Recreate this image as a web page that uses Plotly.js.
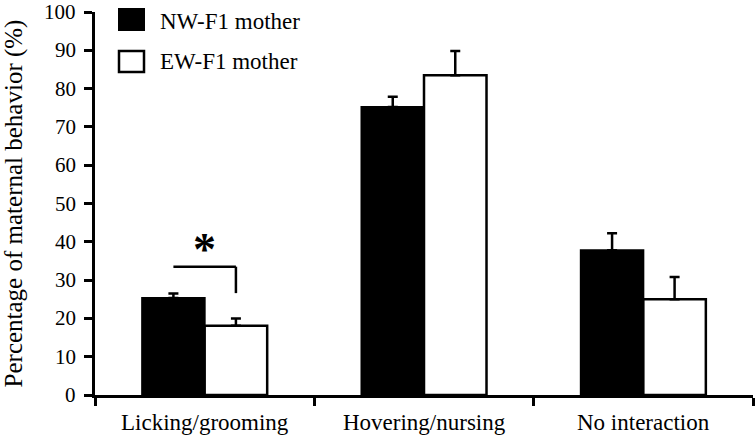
<!DOCTYPE html>
<html>
<head>
<meta charset="utf-8">
<script src="https://cdn.plot.ly/plotly-3.0.1.min.js"></script>
<style>
html,body{margin:0;padding:0;background:#fff;}
#chart{width:756px;height:444px;}
</style>
</head>
<body>
<div id="chart"></div>
<script>
// Data
var categories = ["Licking/grooming", "Hovering/nursing", "No interaction"];
var seriesNames = ["NW-F1 mother", "EW-F1 mother"];
var nwValues = [25.3, 75.2, 37.8];
var nwErrors = [1.2, 2.7, 4.4];
var ewValues = [18.1, 83.5, 25.0];
var ewErrors = [1.9, 6.3, 5.8];
var yTicks = [0, 10, 20, 30, 40, 50, 60, 70, 80, 90, 100];
var sigBracketTop = 33.5;     // horizontal line level of significance bracket
var sigBracketBottom = 26.6;  // bottom of right leg
var sigStarY = 39.7;
var sigCategoryIndex = 0;

var FONT = "Liberation Serif";
var bargap = 0.43;
var halfBar = (1 - bargap) / 4; // center offset of each bar within group

var traces = [
  {
    type: "bar", name: seriesNames[0], x: categories, y: nwValues,
    marker: {color: "#000000", line: {color: "#000000", width: 2}},
    error_y: {type: "data", array: nwErrors, arrayminus: nwErrors.map(function(){return 0;}), symmetric: false,
              color: "#000000", thickness: 2.5, width: 5},
    showlegend: false
  },
  {
    type: "bar", name: seriesNames[1], x: categories, y: ewValues,
    marker: {color: "#ffffff", line: {color: "#000000", width: 2.5}},
    error_y: {type: "data", array: ewErrors, arrayminus: ewErrors.map(function(){return 0;}), symmetric: false,
              color: "#000000", thickness: 2.5, width: 5},
    showlegend: false
  }
];

// plot-area geometry helpers for legend placement (paper coords)
var L = 95, R = 3, T = 12, B = 49, W = 756, H = 444;
var pw = W - L - R, ph = H - T - B;
function px(x){ return (x - L) / pw; }
function py(y){ return (H - B - y) / ph; }

var shapes = [
  // significance bracket
  {type: "line", xref: "x", yref: "y", x0: sigCategoryIndex - halfBar, x1: sigCategoryIndex + halfBar,
   y0: sigBracketTop, y1: sigBracketTop, line: {color: "#000", width: 2.5}},
  {type: "line", xref: "x", yref: "y", x0: sigCategoryIndex + halfBar, x1: sigCategoryIndex + halfBar,
   y0: sigBracketTop, y1: sigBracketBottom, line: {color: "#000", width: 2.5}},
  // legend swatches
  {type: "rect", xref: "paper", yref: "paper", x0: px(119), x1: px(144), y0: py(30), y1: py(9),
   fillcolor: "#000", line: {color: "#000", width: 2}},
  {type: "rect", xref: "paper", yref: "paper", x0: px(119), x1: px(144), y0: py(72), y1: py(51),
   fillcolor: "#fff", line: {color: "#000", width: 2.5}}
];

var annotations = [
  {xref: "x", yref: "y", x: sigCategoryIndex, y: sigStarY, text: "<b>*</b>", showarrow: false,
   font: {family: FONT, size: 46, color: "#000"}, yanchor: "middle", yshift: -7},
  {xref: "paper", yref: "paper", x: px(158), y: py(21), text: seriesNames[0], showarrow: false,
   xanchor: "left", yanchor: "middle", font: {family: FONT, size: 23, color: "#000"}},
  {xref: "paper", yref: "paper", x: px(158), y: py(62), text: seriesNames[1], showarrow: false,
   xanchor: "left", yanchor: "middle", font: {family: FONT, size: 23, color: "#000"}}
];

// tick labels drawn as serif text, placed through the axes' own scales
categories.forEach(function(c){
  annotations.push({xref: "x", yref: "paper", x: c, y: 0, text: c, showarrow: false,
    xanchor: "center", yanchor: "top", yshift: -13,
    font: {family: FONT, size: 23, color: "#000"}});
});
yTicks.forEach(function(v){
  annotations.push({xref: "paper", yref: "y", x: 0, y: v, text: String(v), showarrow: false,
    xanchor: "right", yanchor: "middle", xshift: -17,
    font: {family: FONT, size: 21, color: "#000"}});
});

var layout = {
  width: W, height: H,
  margin: {l: L, r: R, t: T, b: B, pad: 0},
  barmode: "group", bargap: bargap,
  showlegend: false,
  font: {family: FONT, color: "#000"},
  xaxis: {
    type: "category", showgrid: false, zeroline: false,
    showline: true, linecolor: "#000", linewidth: 2.5,
    ticks: "outside", tickson: "boundaries", ticklen: 8, tickwidth: 2.5, tickcolor: "#000",
    showticklabels: false
  },
  yaxis: {
    range: [0, 100], tickmode: "array", tickvals: yTicks,
    showgrid: false, zeroline: false,
    showline: true, linecolor: "#000", linewidth: 2.5,
    ticks: "outside", ticklen: 8, tickwidth: 2.5, tickcolor: "#000",
    showticklabels: false,
    title: {text: "Percentage of maternal behavior (%)", font: {family: FONT, size: 25, color: "#000"}, standoff: 56}
  },
  shapes: shapes,
  annotations: annotations
};

Plotly.newPlot("chart", traces, layout, {displayModeBar: false});
</script>
</body>
</html>
